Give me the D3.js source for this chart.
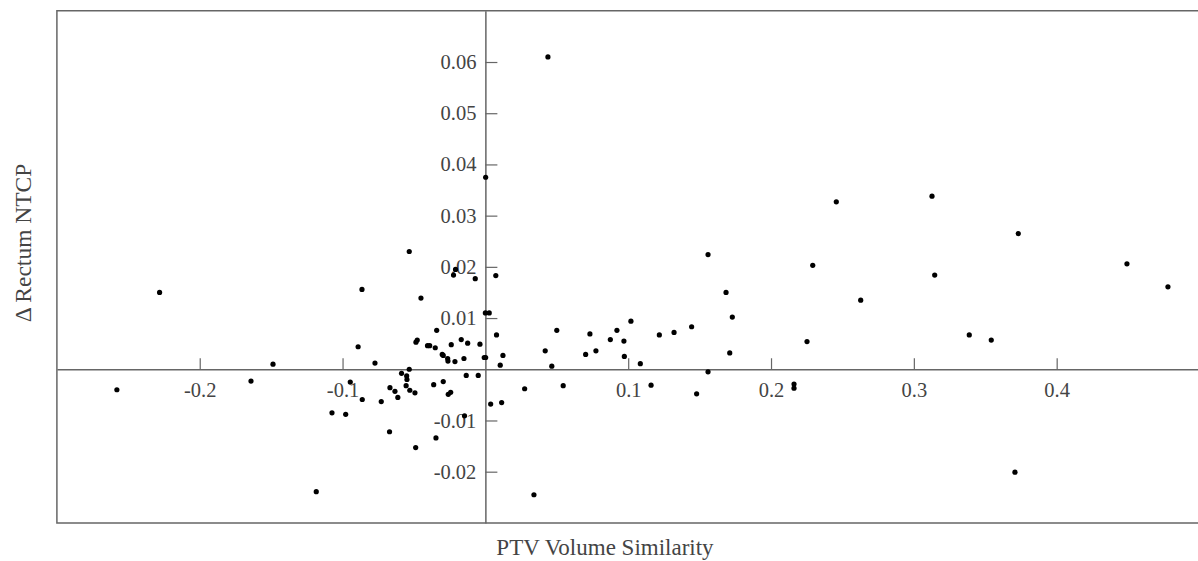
<!DOCTYPE html>
<html>
<head>
<meta charset="utf-8">
<script src="https://cdn.jsdelivr.net/npm/d3@7"></script>
<style>
    body { margin: 0; background: #fff; }
    svg text { font-family: "Liberation Serif", "Times New Roman", serif; fill: #444; }
</style>
</head>
<body>
<div id="chart"></div>
<script>
// PTV volume similarity (x) vs change in rectum NTCP (y)
const volumeSimilarity = [
    0.0002, -0.0533, -0.0864, -0.0223, -0.0209, -0.0071, 0.0073, -0.0451, 0.0000, 0.0027,
    -0.0891, -0.0773, -0.0486, -0.0477, -0.0405, -0.0390, -0.0351, -0.0341, -0.0302, -0.0295,
    -0.0264, -0.0262, -0.0239, -0.0213, -0.0169, -0.0150, -0.0124, -0.0038, -0.0008, 0.0002,
    0.0078, 0.0123, 0.0104, 0.0419, 0.0500, 0.0465, -0.0533, -0.0587, -0.0551, -0.0549,
    -0.0555, -0.0529, -0.0493, -0.0668, -0.0633, -0.0613, -0.0729, -0.0862, -0.0946, -0.1074,
    -0.0978, -0.0671, -0.0488, -0.0346, -0.0362, -0.0295, -0.0260, -0.0243, -0.0146, -0.0134,
    -0.0050, 0.0037, 0.0114, 0.0275, -0.2281, -0.2580, -0.1487, -0.1641, -0.1184, 0.0702,
    0.0732, 0.0774, 0.0875, 0.0921, 0.0970, 0.0973, 0.1019, 0.1085, 0.1218, 0.1321,
    0.1444, 0.1685, 0.1729, 0.1711, 0.2252, 0.1559, 0.1160, 0.1479, 0.2161, 0.2161,
    0.0545, 0.0340, 0.0438, 0.1559, 0.2292, 0.2457, 0.3127, 0.3731, 0.3146, 0.4492,
    0.4779, 0.2628, 0.3388, 0.3542, 0.3708
];
const deltaNTCP = [
    0.0375, 0.0230, 0.0156, 0.0184, 0.0195, 0.0177, 0.0183, 0.0139, 0.0110, 0.0110,
    0.0044, 0.0012, 0.0053, 0.0057, 0.0046, 0.0046, 0.0042, 0.0076, 0.0029, 0.0027,
    0.0021, 0.0016, 0.0048, 0.0015, 0.0058, 0.0021, 0.0051, 0.0049, 0.0023, 0.0023,
    0.0067, 0.0027, 0.0008, 0.0036, 0.0076, 0.0006, 0.0000, -0.0008, -0.0013, -0.0020,
    -0.0032, -0.0041, -0.0046, -0.0036, -0.0043, -0.0055, -0.0063, -0.0059, -0.0025, -0.0085,
    -0.0088, -0.0122, -0.0153, -0.0134, -0.0030, -0.0024, -0.0049, -0.0045, -0.0091, -0.0012,
    -0.0012, -0.0068, -0.0065, -0.0038, 0.0150, -0.0040, 0.0010, -0.0023, -0.0239, 0.0029,
    0.0069, 0.0036, 0.0058, 0.0076, 0.0055, 0.0025, 0.0094, 0.0011, 0.0067, 0.0072,
    0.0083, 0.0150, 0.0102, 0.0032, 0.0054, -0.0005, -0.0031, -0.0048, -0.0029, -0.0037,
    -0.0032, -0.0245, 0.0610, 0.0224, 0.0203, 0.0327, 0.0338, 0.0265, 0.0184, 0.0206,
    0.0161, 0.0135, 0.0067, 0.0057, -0.0201
];
const xTicks = [-0.2, -0.1, 0.1, 0.2, 0.3, 0.4];
const yTicks = [-0.02, -0.01, 0.01, 0.02, 0.03, 0.04, 0.05, 0.06];

const points = volumeSimilarity.map((v, i) => ({ x: v, y: deltaNTCP[i] }));

let width = 1198, height = 561;

let svg = d3.select("#chart").append("svg")
    .attr("width", width)
    .attr("height", height);

// Scales
let x = d3.scaleLinear()
    .domain([-0.3, 0.5])
    .range([56.9, 1199.5]);

let y = d3.scaleLinear()
    .domain([-0.03, 0.07])
    .range([522.9, 10.8]);

// Frame (open on the right, it runs off the picture)
svg.append("path")
    .attr("d", "M" + x(0.5) + "," + y(0.07) + "H" + x(-0.3) + "V" + y(-0.03) + "H" + x(0.5))
    .attr("fill", "none")
    .attr("stroke", "#666")
    .attr("stroke-width", 1.5);

// Axes through the origin
let xAxis = d3.axisBottom(x)
    .tickValues(xTicks)
    .tickFormat(d => String(d))
    .tickSizeInner(-11)
    .tickSizeOuter(0)
    .tickPadding(13);

let yAxis = d3.axisLeft(y)
    .tickValues(yTicks)
    .tickFormat(d => String(d))
    .tickSizeInner(-12)
    .tickSizeOuter(0)
    .tickPadding(9);

let gx = svg.append("g")
    .attr("class", "x-axis axis")
    .attr("transform", "translate(0," + y(0) + ")")
    .call(xAxis);

let gy = svg.append("g")
    .attr("class", "y-axis axis")
    .attr("transform", "translate(" + x(0) + ",0)")
    .call(yAxis);

[gx, gy].forEach(g => {
    g.select(".domain").attr("stroke", "#666").attr("stroke-width", 1.5);
    g.selectAll(".tick line").attr("stroke", "#666").attr("stroke-width", 1.2);
    g.selectAll(".tick text")
        .attr("font-size", 20.5)
        .attr("font-family", null)
        .attr("fill", "#444");
    g.attr("font-family", null);
});

// Dots
svg.selectAll(".dot")
    .data(points)
    .enter().append("circle")
    .attr("class", "dot")
    .attr("cx", d => x(d.x))
    .attr("cy", d => y(d.y))
    .attr("r", 2.6)
    .attr("fill", "#000");

// Axis titles
svg.append("text")
    .attr("x", 605)
    .attr("y", 555)
    .attr("text-anchor", "middle")
    .attr("font-size", 23)
    .text("PTV Volume Similarity");

svg.append("text")
    .attr("transform", "translate(31,243) rotate(-90)")
    .attr("text-anchor", "middle")
    .attr("font-size", 23.5)
    .text("Δ Rectum NTCP");
</script>
</body>
</html>
